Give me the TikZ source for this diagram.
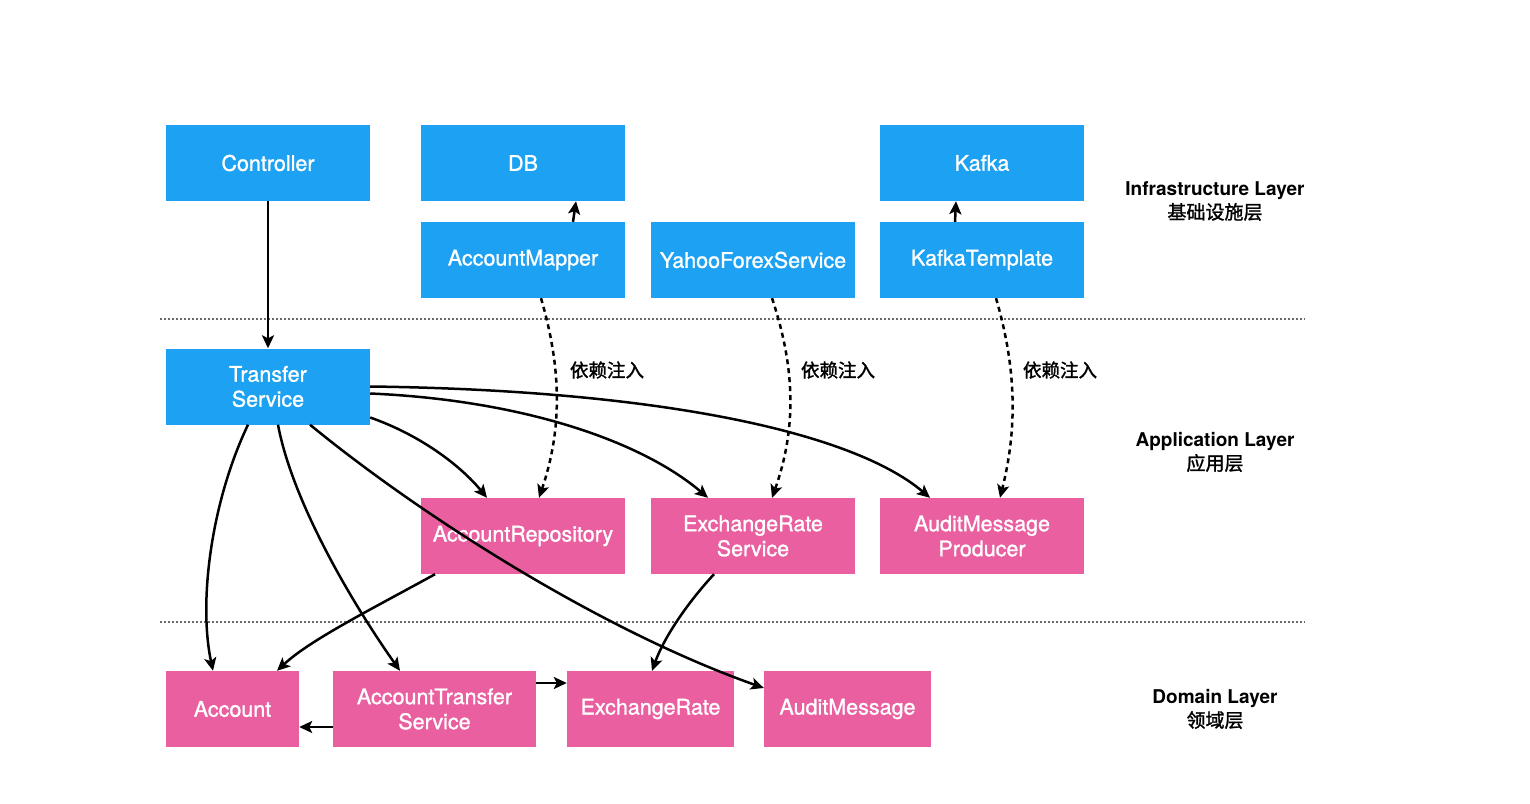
\documentclass[tikz,border=0pt]{standalone}
\usepackage{fontspec}
\setmainfont{TeX Gyre Heros}
\newfontfamily\boxfont{TeX Gyre Heros}[FakeBold=1.2]
\newfontfamily\cjkmed{Noto Sans CJK SC}[FakeBold=1.5]
\usetikzlibrary{arrows.meta}
\definecolor{infra}{HTML}{1DA1F2}
\definecolor{domain}{HTML}{E95F9F}
\definecolor{sepgray}{HTML}{6A6A6A}
\begin{document}
\begin{tikzpicture}[x=1pt,y=-1pt,
  box/.style={minimum width=204pt, minimum height=76pt, inner sep=0pt, text=white,
    align=center, font=\boxfont\fontsize{21.5}{25}\selectfont},
  bluebox/.style={box, fill=infra},
  pinkbox/.style={box, fill=domain},
  dep/.style={line width=2.5pt, -{Stealth[length=13pt,width=12pt,inset=3pt]}},
  inject/.style={dep, dash pattern=on 5pt off 4pt},
  sep/.style={line width=1.5pt, sepgray, dash pattern=on 1.5pt off 2.5pt},
  layer/.style={align=center, font=\fontsize{19}{24}\selectfont\bfseries},
  injlabel/.style={font=\cjkmed\fontsize{18.5}{22}\selectfont}
]
\useasboundingbox (0,0) rectangle (1530,803);
\fill[white] (0,0) rectangle (1530,803);

% layer separators
\coordinate (s1a) at (160,319);
\coordinate (s1b) at (1305,319);
\coordinate (s2a) at (160,622);
\coordinate (s2b) at (1305,622);
\draw[sep] (s1a) -- (s1b);
\draw[sep] (s2a) -- (s2b);

% infrastructure layer
\node[bluebox] (ctrl)   at (268,163) {Controller};
\node[bluebox] (db)     at (523,163) {DB};
\node[bluebox] (kafka)  at (982,163) {Kafka};
\node[bluebox] (mapper) at (523,260) {AccountMapper};
\node[bluebox] (yahoo)  at (753,260) {YahooForexService};
\node[bluebox] (ktpl)   at (982,260) {KafkaTemplate};

% application layer
\node[bluebox] (ts)   at (268,386.5) {Transfer\\Service};
\node[pinkbox] (repo) at (523,536) {AccountRepository};
\node[pinkbox] (ers)  at (753,536) {ExchangeRate\\Service};
\node[pinkbox] (amp)  at (982,536) {AuditMessage\\Producer};

% domain layer
\node[pinkbox, minimum width=133pt] (acct) at (232.5,709) {Account};
\node[pinkbox, minimum width=203pt] (ats)  at (434.5,709) {AccountTransfer\\Service};
\node[pinkbox, minimum width=167pt] (er)   at (650.5,709) {ExchangeRate};
\node[pinkbox, minimum width=167pt] (am)   at (847.5,709) {AuditMessage};

% layer captions
\node[layer] (lInfra) at (1215,201) {Infrastructure Layer\\{\cjkmed\mdseries 基础设施层}};
\node[layer] (lApp)   at (1215,452) {Application Layer\\{\cjkmed\mdseries 应用层}};
\node[layer] (lDom)   at (1215,709) {Domain Layer\\{\cjkmed\mdseries 领域层}};

% straight dependencies
\draw[dep] (ctrl.south) -- (ts.north);
\draw[dep] ([xshift=50pt]mapper.north) -- ([xshift=53pt]db.south);
\draw[dep] ([xshift=-27pt]ktpl.north) -- ([xshift=-26pt]kafka.south);

% dependency injection
\draw[inject] ([xshift=18pt]mapper.south) .. controls (562,370) and (562,430) .. ([xshift=16pt]repo.north);
\draw[inject] ([xshift=19pt]yahoo.south) .. controls (796,370) and (796,430) .. ([xshift=19pt]ers.north);
\draw[inject] ([xshift=14pt]ktpl.south) .. controls (1017,370) and (1017,430) .. ([xshift=18pt]amp.north);
\node[injlabel] (inj1) at (607,370) {依赖注入};
\node[injlabel] (inj2) at (838,370) {依赖注入};
\node[injlabel] (inj3) at (1060,370) {依赖注入};

% transfer service uses
\draw[dep] (ts.east) .. controls (650,390) and (850,430) .. ([xshift=-52pt]amp.north);
\draw[dep] ([yshift=-7pt]ts.east) .. controls (520,400) and (640,440) .. ([xshift=-45pt]ers.north);
\draw[dep] ([yshift=-31pt]ts.east) .. controls (420,435) and (460,465) .. ([xshift=-36pt]repo.north);
\draw[dep] ([xshift=-20pt]ts.south) .. controls (212,500) and (198,600) .. ([xshift=-19.5pt]acct.north);
\draw[dep] ([xshift=10pt]ts.south) .. controls (292,500) and (350,600) .. ([xshift=-34.5pt]ats.north);
\draw[dep] ([xshift=42pt]ts.south) .. controls (420,515) and (600,630) .. ([yshift=21pt]am.west);

% application to domain
\draw[dep] ([xshift=-88pt]repo.south) .. controls (370,610) and (310,640) .. ([xshift=44.5pt]acct.north);
\draw[dep] ([xshift=-39pt]ers.south) .. controls (690,600) and (665,635) .. ([xshift=1.5pt]er.north);

% within domain
\draw[dep] ([yshift=26pt]ats.east) -- ([yshift=26pt]er.west);
\draw[dep] ([yshift=-18pt]ats.west) -- ([yshift=-18pt]acct.east);
\end{tikzpicture}
\end{document}
